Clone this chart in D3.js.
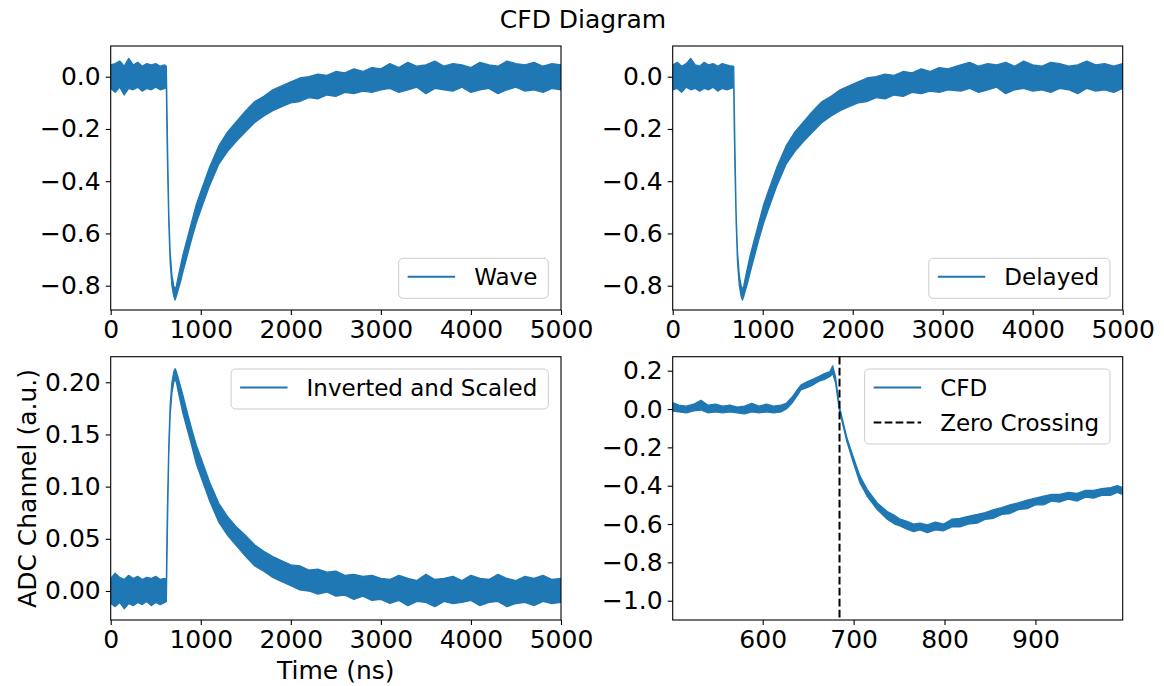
<!DOCTYPE html>
<html>
<head>
<meta charset="utf-8">
<script src="https://cdn.jsdelivr.net/npm/d3@7"></script>
<style>
body{margin:0;background:#fff;}
text{font-family:"DejaVu Sans",sans-serif;fill:#000;}
</style>
</head>
<body>
<svg id="fig" width="1164" height="686"></svg>
<script>
// --- data: [time (ns), low edge, high edge] of each noisy trace ---
var waveBand = [
  [0,-0.045,0.045],[50,-0.06,0.05],[100,-0.04,0.06],[150,-0.07,0.04],[200,-0.045,0.07],[250,-0.05,0.045],[300,-0.04,0.055],
  [350,-0.055,0.04],[400,-0.045,0.05],[450,-0.05,0.045],[500,-0.04,0.05],[550,-0.05,0.04],[600,-0.045,0.045],[618,-0.04,0.04],
  [624,-0.2,-0.1],[632,-0.36,-0.28],[645,-0.56,-0.52],[660,-0.71,-0.67],[680,-0.8,-0.76],[700,-0.84,-0.8],[715,-0.855,-0.815],
  [730,-0.84,-0.8],[750,-0.815,-0.765],[775,-0.785,-0.725],[800,-0.75,-0.685],[850,-0.685,-0.62],[900,-0.62,-0.555],
  [950,-0.56,-0.49],[1000,-0.51,-0.44],[1100,-0.415,-0.345],[1200,-0.335,-0.265],[1300,-0.285,-0.21],[1400,-0.245,-0.17],
  [1500,-0.21,-0.13],[1600,-0.175,-0.095],[1700,-0.15,-0.075],[1800,-0.13,-0.05],[1900,-0.115,-0.035],[2000,-0.1,-0.02],
  [2100,-0.095,-0.005],[2200,-0.08,0.0],[2300,-0.085,0.01],[2400,-0.07,0.005],[2500,-0.075,0.02],[2600,-0.06,0.015],
  [2700,-0.065,0.03],[2800,-0.055,0.02],[2900,-0.06,0.035],[3000,-0.05,0.03],
  [3100,-0.045,0.05],[3200,-0.06,0.035],[3300,-0.05,0.055],[3400,-0.04,0.04],[3500,-0.065,0.045],[3600,-0.045,0.06],
  [3700,-0.05,0.04],[3800,-0.055,0.05],[3900,-0.04,0.045],[4000,-0.06,0.035],[4100,-0.05,0.055],[4200,-0.045,0.045],
  [4300,-0.065,0.04],[4400,-0.05,0.06],[4500,-0.04,0.05],[4600,-0.055,0.045],[4700,-0.05,0.055],[4800,-0.06,0.04],
  [4900,-0.045,0.05],[5000,-0.05,0.045]
];

var delayBand = [
  [0,-0.05,0.045],[50,-0.045,0.055],[100,-0.06,0.04],[150,-0.04,0.05],[200,-0.05,0.07],[250,-0.045,0.045],[300,-0.055,0.04],
  [350,-0.045,0.055],[400,-0.05,0.045],[450,-0.04,0.05],[500,-0.055,0.04],[550,-0.045,0.05],[600,-0.05,0.045],[650,-0.045,0.04],
  [678,-0.04,0.04],[684,-0.2,-0.1],[692,-0.36,-0.28],[705,-0.56,-0.52],[720,-0.71,-0.67],[740,-0.8,-0.76],[760,-0.84,-0.8],
  [775,-0.855,-0.815],[790,-0.84,-0.8],[810,-0.815,-0.765],[835,-0.785,-0.725],[860,-0.75,-0.685],[910,-0.685,-0.62],
  [960,-0.62,-0.555],[1010,-0.56,-0.49],[1060,-0.51,-0.44],[1160,-0.415,-0.345],[1260,-0.335,-0.265],[1360,-0.285,-0.21],
  [1460,-0.245,-0.17],[1560,-0.21,-0.13],[1660,-0.175,-0.095],[1760,-0.15,-0.075],[1860,-0.13,-0.05],[1960,-0.115,-0.035],
  [2060,-0.1,-0.02],[2160,-0.095,-0.005],[2260,-0.08,0.0],[2360,-0.085,0.01],[2460,-0.07,0.005],[2560,-0.075,0.02],
  [2660,-0.06,0.015],[2760,-0.065,0.03],[2860,-0.055,0.02],[2960,-0.06,0.035],[3060,-0.05,0.03],
  [3200,-0.055,0.045],[3300,-0.045,0.055],[3400,-0.06,0.04],[3500,-0.05,0.05],[3600,-0.04,0.045],[3700,-0.065,0.055],
  [3800,-0.05,0.04],[3900,-0.045,0.06],[4000,-0.055,0.045],[4100,-0.05,0.04],[4200,-0.06,0.055],[4300,-0.045,0.05],
  [4400,-0.05,0.04],[4500,-0.065,0.045],[4600,-0.045,0.06],[4700,-0.055,0.045],[4800,-0.05,0.05],[4900,-0.06,0.04],
  [5000,-0.045,0.05]
];

var invBand = [
  [0,-0.012,0.012],[50,-0.015,0.017],[100,-0.011,0.013],[150,-0.017,0.011],[200,-0.012,0.015],[250,-0.014,0.012],
  [300,-0.011,0.014],[350,-0.013,0.011],[400,-0.01,0.013],[450,-0.014,0.012],[500,-0.011,0.014],[550,-0.013,0.011],
  [600,-0.011,0.012],[618,-0.01,0.01],
  [624,0.025,0.05],[632,0.07,0.09],[645,0.13,0.14],[660,0.168,0.178],[680,0.19,0.2],[700,0.2,0.21],[715,0.203,0.213],
  [730,0.2,0.21],[750,0.191,0.204],[775,0.181,0.196],[800,0.171,0.188],[850,0.155,0.171],[900,0.139,0.155],
  [950,0.122,0.14],[1000,0.11,0.128],[1100,0.086,0.104],[1200,0.066,0.084],[1300,0.053,0.071],[1400,0.043,0.061],
  [1500,0.033,0.053],[1600,0.024,0.044],[1700,0.019,0.038],[1800,0.013,0.033],[1900,0.009,0.029],[2000,0.005,0.025],
  [2100,0.001,0.024],[2200,0.0,0.02],[2300,-0.003,0.021],[2400,-0.001,0.018],[2500,-0.005,0.019],[2600,-0.004,0.015],
  [2700,-0.008,0.016],[2800,-0.005,0.014],[2900,-0.009,0.015],[3000,-0.008,0.012],
  [3100,-0.012,0.011],[3200,-0.009,0.015],[3300,-0.014,0.012],[3400,-0.01,0.01],[3500,-0.011,0.016],[3600,-0.015,0.011],
  [3700,-0.01,0.012],[3800,-0.012,0.014],[3900,-0.011,0.01],[4000,-0.009,0.015],[4100,-0.014,0.012],[4200,-0.011,0.011],
  [4300,-0.01,0.016],[4400,-0.015,0.012],[4500,-0.012,0.01],[4600,-0.011,0.014],[4700,-0.014,0.012],[4800,-0.01,0.015],
  [4900,-0.012,0.011],[5000,-0.011,0.012]
];

var cfdBand = [
  [500,-0.01,0.035],[508,-0.015,0.02],[516,-0.02,0.015],[524,-0.01,0.025],[532,-0.005,0.045],[540,-0.02,0.02],
  [548,-0.015,0.025],[556,-0.02,0.015],[564,-0.015,0.02],[572,-0.02,0.01],[580,-0.025,0.015],[588,-0.015,0.03],
  [596,-0.02,0.015],[604,-0.015,0.025],[612,-0.02,0.015],[620,-0.015,0.02],[626,0.0,0.03],[632,0.03,0.06],
  [638,0.07,0.1],[642,0.1,0.125],[648,0.11,0.14],[655,0.125,0.155],[662,0.145,0.17],[668,0.155,0.185],
  [674,0.17,0.195],[677,0.185,0.225],[680,0.14,0.17],[684.5,-0.01,0.01],[692.6,-0.17,-0.15],[700,-0.285,-0.255],
  [707,-0.385,-0.35],[715,-0.455,-0.42],[726,-0.525,-0.49],[737,-0.575,-0.535],[745,-0.6,-0.555],[751,-0.61,-0.575],
  [758,-0.625,-0.585],[766,-0.64,-0.6],[773,-0.63,-0.595],[781,-0.645,-0.605],[790,-0.63,-0.59],[799,-0.635,-0.6],
  [808,-0.615,-0.575],[817,-0.615,-0.57],[826,-0.6,-0.56],[836,-0.595,-0.55],[845,-0.575,-0.54],[854,-0.57,-0.525],
  [863,-0.55,-0.515],[872,-0.545,-0.5],[881,-0.525,-0.49],[891,-0.52,-0.475],[900,-0.5,-0.465],[909,-0.5,-0.455],
  [918,-0.48,-0.445],[927,-0.485,-0.445],[936,-0.47,-0.435],[946,-0.48,-0.44],[955,-0.46,-0.425],[964,-0.465,-0.425],
  [973,-0.45,-0.415],[983,-0.45,-0.41],[990,-0.435,-0.4],[996,-0.445,-0.41]
];

var zeroCross = 684.5;

var longTicks = [0,1000,2000,3000,4000,5000];
var cfdTicks  = [600,700,800,900];
var waveYTicks = [0,-0.2,-0.4,-0.6,-0.8];
var invYTicks  = [0,0.05,0.1,0.15,0.2];
var cfdYTicks  = [0.2,0,-0.2,-0.4,-0.6,-0.8,-1.0];

var blue="#1f77b4";
var svg=d3.select("#fig");
svg.append("rect").attr("width",1164).attr("height",686).attr("fill","#fff");

var panels=[
  {id:"a", x0:110.7, x1:561,   y0:46,    y1:310, xdom:[0,5000], ydom:[-0.893,0.1175], band:waveBand,  xticks:longTicks, yticks:waveYTicks, yfmt:".1f", legend:["Wave"], legpos:"lower"},
  {id:"b", x0:672.7, x1:1122.7,y0:46,    y1:310, xdom:[0,5000], ydom:[-0.893,0.1175], band:delayBand, xticks:longTicks, yticks:waveYTicks, yfmt:".1f", legend:["Delayed"], legpos:"lower"},
  {id:"c", x0:110.7, x1:561,   y0:356.7, y1:620, xdom:[0,5000], ydom:[-0.0278,0.2245], band:invBand,  xticks:longTicks, yticks:invYTicks, yfmt:".2f", legend:["Inverted and Scaled"], legpos:"upper"},
  {id:"d", x0:672.7, x1:1122.7,y0:356.7, y1:620, xdom:[501,996], ydom:[-1.1007,0.273], band:cfdBand,  xticks:cfdTicks, yticks:cfdYTicks, yfmt:".1f", legend:["CFD","Zero Crossing"], legpos:"upper", zero:zeroCross}
];

panels.forEach(drawpanel);

function drawpanel(p){
    var x=d3.scaleLinear().domain(p.xdom).range([p.x0,p.x1]);
    var y=d3.scaleLinear().domain(p.ydom).range([p.y1,p.y0]);
    var g=svg.append("g").attr("class","panel-"+p.id);

    g.append("clipPath").attr("id","clip-"+p.id)
        .append("rect").attr("x",p.x0).attr("y",p.y0).attr("width",p.x1-p.x0).attr("height",p.y1-p.y0);

    var band=d3.area()
        .x(function(d){ return x(d[0]); })
        .y0(function(d){ return y(d[1]); })
        .y1(function(d){ return y(d[2]); });

    g.append("path").datum(p.band)
        .attr("d",band)
        .attr("fill",blue)
        .attr("stroke",blue)
        .attr("stroke-width",1.3)
        .attr("stroke-linejoin","round")
        .attr("clip-path","url(#clip-"+p.id+")");

    if(p.zero!=null){
        g.append("line")
            .attr("x1",x(p.zero)).attr("x2",x(p.zero))
            .attr("y1",p.y0).attr("y2",p.y1)
            .attr("stroke","#000").attr("stroke-width",2)
            .attr("stroke-dasharray","7.7,3.3");
    }

    var xa=g.append("g").attr("transform","translate(0,"+p.y1+")")
        .call(d3.axisBottom(x).tickValues(p.xticks).tickSize(5).tickSizeOuter(0).tickPadding(5).tickFormat(d3.format("d")));
    var ya=g.append("g").attr("transform","translate("+p.x0+",0)")
        .call(d3.axisLeft(y).tickValues(p.yticks).tickSize(5).tickSizeOuter(0).tickPadding(5).tickFormat(d3.format(p.yfmt)));
    [xa,ya].forEach(function(a){
        a.attr("font-size",25).attr("font-family","DejaVu Sans");
        a.select(".domain").remove();
        a.selectAll(".tick line").attr("stroke","#000").attr("stroke-width",1.1);
    });

    g.append("rect")
        .attr("x",p.x0).attr("y",p.y0)
        .attr("width",p.x1-p.x0).attr("height",p.y1-p.y0)
        .attr("fill","none").attr("stroke","#000").attr("stroke-width",1.1);

    drawlegend(g,p);
}

function drawlegend(g,p){
    var fs=23, rowh=35, n=p.legend.length;
    var lg=g.append("g");
    var box=lg.append("rect");
    var widest=0;
    var texts=p.legend.map(function(name){
        var t=lg.append("text").attr("font-size",fs).text(name);
        widest=Math.max(widest,t.node().getComputedTextLength());
        return t;
    });
    var w=9+47.5+19+widest+11;
    var h=18.4+(n-1)*rowh+21.6;
    var right=p.x1-12.7;
    var top = p.legpos=="upper" ? p.y0+12.3 : p.y1-11.7-h;
    var left=right-w;
    box.attr("x",left).attr("y",top).attr("width",w).attr("height",h)
        .attr("rx",4.4).attr("ry",4.4)
        .attr("fill","#fff").attr("fill-opacity",0.8)
        .attr("stroke","#cccccc").attr("stroke-width",1);
    texts.forEach(function(t,i){
        var ly=top+18.4+i*rowh;
        var dashed=(p.legend[i]=="Zero Crossing");
        lg.append("line")
            .attr("x1",left+9).attr("x2",left+9+47.5)
            .attr("y1",ly).attr("y2",ly)
            .attr("stroke",dashed ? "#000" : blue)
            .attr("stroke-width",2)
            .attr("stroke-dasharray",dashed ? "7.7,3.3" : null);
        t.attr("x",left+9+47.5+19).attr("y",ly+8.5);
    });
}

svg.append("text").attr("x",583).attr("y",28).attr("text-anchor","middle").attr("font-size",25).text("CFD Diagram");
svg.append("text").attr("x",335.8).attr("y",679).attr("text-anchor","middle").attr("font-size",25).text("Time (ns)");
svg.append("text").attr("transform","translate(36,488.5) rotate(-90)").attr("text-anchor","middle").attr("font-size",25).text("ADC Channel (a.u.)");
</script>
</body>
</html>
